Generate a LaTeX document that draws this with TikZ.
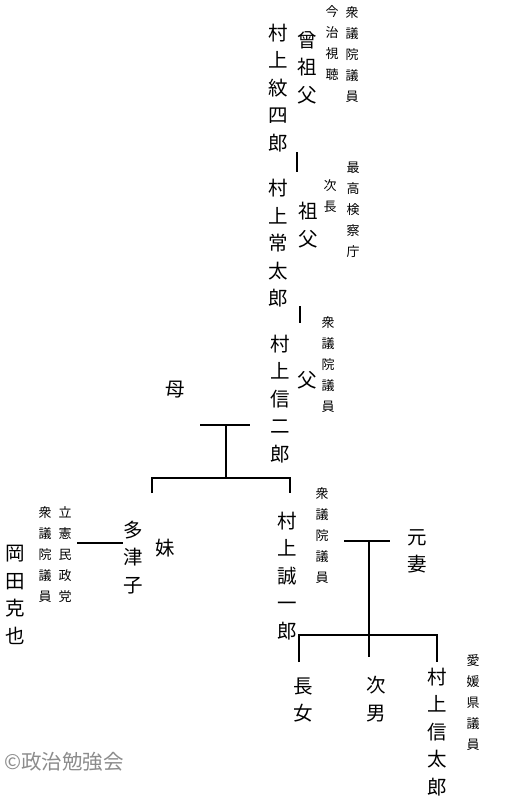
\documentclass[tikz,border=0pt]{standalone}
\usepackage{fontspec}
\setmainfont{Noto Sans CJK JP}
\tikzset{
  big/.style={font=\fontsize{19.5}{27.5}\selectfont, align=center, inner sep=0pt},
  small/.style={font=\fontsize{13}{21}\selectfont, align=center, inner sep=0pt},
  tie/.style={line width=1.6pt},
}
\begin{document}
\begin{tikzpicture}[x=1pt,y=-1pt]
  \useasboundingbox (0,0) rectangle (512,800);
  % 曾祖父
  \node[big] (monshiro) at (278,88) {村\\上\\紋\\四\\郎};
  \node[big] (sosofu) at (307,67.5) {曾\\祖\\父};
  \node[small] (imabari) at (332,43) {今\\治\\視\\聴};
  \node[small] (shugi1) at (352,55) {衆\\議\\院\\議\\員};
  % 祖父
  \node[big] (joutarou) at (278,243.5) {村\\上\\常\\太\\郎};
  \node[big] (sofu) at (308,225) {祖\\父};
  \node[small] (jichou) at (330,196) {次\\長};
  \node[small] (kensatsu) at (353,210) {最\\高\\検\\察\\庁};
  % 父・母
  \node[big] (shinjirou) at (280,399) {村\\上\\信\\二\\郎};
  \node[big] (chichi) at (307,380) {父};
  \node[small] (shugi2) at (328,364.5) {衆\\議\\院\\議\\員};
  \node[big] (haha) at (175,390) {母};
  % 妹
  \node[big] (tazuko) at (133,557.5) {多\\津\\子};
  \node[big] (imouto) at (165,548) {妹};
  \node[big] (okada) at (15,595) {岡\\田\\克\\也};
  \node[small] (minsei) at (65,555) {立\\憲\\民\\政\\党};
  \node[small] (shugi3) at (45,555) {衆\\議\\院\\議\\員};
  % 本人
  \node[big] (seiichirou) at (287,576) {村\\上\\誠\\一\\郎};
  \node[small] (shugi4) at (322,535.5) {衆\\議\\院\\議\\員};
  \node[big] (motozuma) at (417,551.5) {元\\妻};
  % 子
  \node[big] (choujo) at (303,700) {長\\女};
  \node[big] (jinan) at (376,699) {次\\男};
  \node[big] (shintarou) at (437,732) {村\\上\\信\\太\\郎};
  \node[small] (kengi) at (473,702.5) {愛\\媛\\県\\議\\員};
  \node[font=\fontsize{20.5}{20.5}\selectfont, text=black!45, anchor=west, inner sep=0pt] (credit) at (4,762) {©政治勉強会};

  \coordinate (a1) at (297,152); \coordinate (a2) at (297,172);
  \coordinate (b1) at (300,306); \coordinate (b2) at (300,323);
  \coordinate (m1) at (200,425); \coordinate (m2) at (250,425);
  \coordinate (m3) at (226,425); \coordinate (m4) at (226,478);
  \coordinate (c1) at (152,478); \coordinate (c2) at (290,478);
  \coordinate (o1) at (77,543); \coordinate (o2) at (123,543);
  \coordinate (n1) at (344,541); \coordinate (n2) at (390,541);
  \coordinate (n3) at (369,541); \coordinate (n4) at (369,657);
  \coordinate (d1) at (299,635); \coordinate (d2) at (437,635);
  \draw[tie] (a1) -- (a2);
  \draw[tie] (b1) -- (b2);
  \draw[tie] (m1) -- (m2) (m3) -- (m4);
  \draw[tie] (c1 |- 0,493) -- (c1) -- (c2) -- (c2 |- 0,493);
  \draw[tie] (o1) -- (o2);
  \draw[tie] (n1) -- (n2) (n3) -- (n4);
  \draw[tie] (d1 |- 0,662) -- (d1) -- (d2) -- (d2 |- 0,662);
\end{tikzpicture}
\end{document}
